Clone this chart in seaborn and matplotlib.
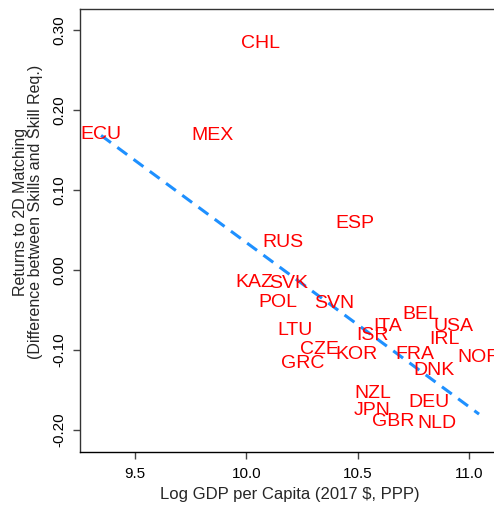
import matplotlib
matplotlib.use("Agg")
import matplotlib.pyplot as plt
import seaborn as sns
import pandas as pd

countries = ["ECU", "MEX", "CHL", "RUS", "ESP", "KAZ", "SVK", "POL", "SVN",
             "LTU", "CZE", "GRC", "KOR", "ISR", "ITA", "BEL", "USA", "IRL",
             "FRA", "NOR", "DNK", "NZL", "DEU", "JPN", "GBR", "NLD"]
log_gdp = [9.348, 9.848, 10.065, 10.164, 10.487, 10.034, 10.191, 10.140, 10.395,
           10.217, 10.325, 10.253, 10.494, 10.567, 10.635, 10.783, 10.930, 10.890,
           10.757, 11.043, 10.843, 10.565, 10.817, 10.565, 10.658, 10.856]
returns = [0.172, 0.170, 0.285, 0.037, 0.060, -0.013, -0.014, -0.039, -0.040,
           -0.074, -0.0975, -0.115, -0.103, -0.080, -0.068, -0.053, -0.068, -0.085,
           -0.103, -0.107, -0.123, -0.1525, -0.163, -0.174, -0.1875, -0.190]
# fitted line
fit_intercept = 2.091
fit_slope = -0.2057
x_ticks = [9.5, 10.0, 10.5, 11.0]
y_ticks = [-0.20, -0.10, 0.00, 0.10, 0.20, 0.30]

df = pd.DataFrame({"country": countries, "gdp": log_gdp, "ret": returns})
fit_x = [min(log_gdp), max(log_gdp)]
fit_df = pd.DataFrame({"gdp": fit_x,
                       "fit": [fit_intercept + fit_slope * v for v in fit_x]})

sns.set_style("ticks")
plt.rcParams["font.family"] = ["Liberation Sans", "DejaVu Sans"]

W, H = 494, 508
fig = plt.figure(figsize=(W / 100, H / 100), dpi=100)
ax = fig.add_axes([80 / W, (H - 452) / H, 420 / W, 443 / H])

sns.lineplot(data=fit_df, x="gdp", y="fit", ax=ax, color="#1E90FF", lw=2.2,
             ls=(0, (4, 2.6)))

for c, xv, yv in zip(df["country"], df["gdp"], df["ret"]):
    ax.text(xv, yv, c, color="#FF0000", fontsize=14, ha="center",
            va="center_baseline")

ax.set_xlim(9.2534, 11.137)
ax.set_ylim(-0.2279, 0.32625)
ax.set_xticks(x_ticks)
ax.set_xticklabels([f"{v:.1f}" for v in x_ticks])
ax.set_yticks(y_ticks)
ax.set_yticklabels([f"{v:.2f}" for v in y_ticks], rotation=90, va="center")

ax.tick_params(axis="both", direction="out", length=5, width=1.0,
               colors="#444444", labelcolor="black", labelsize=11)
ax.tick_params(axis="y", pad=5)
ax.tick_params(axis="x", pad=6)

for s in ["left", "top", "bottom"]:
    ax.spines[s].set_visible(True)
    ax.spines[s].set_color("#333333")
    ax.spines[s].set_linewidth(1.0)
ax.spines["bottom"].set_color("black")
ax.spines["right"].set_visible(False)

ax.set_xlabel("Log GDP per Capita (2017 $, PPP)", fontsize=12, labelpad=4)
ax.set_ylabel("Returns to 2D Matching\n(Difference between Skills and Skill Req.)",
              fontsize=11.5, linespacing=1.0)
ax.yaxis.set_label_coords(-37 / 420, (452 - 212) / 443)

fig.savefig("out.png", dpi=100)
